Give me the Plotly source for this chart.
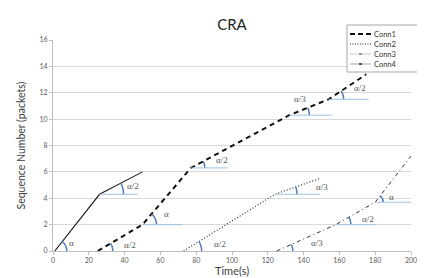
import math
import plotly.graph_objects as go

# ---------------- data ----------------
solid_x = [1, 26, 50]
solid_y = [0, 4.3, 6.0]
conn1_x = [25, 50, 77, 132, 154, 175]
conn1_y = [0, 2.0, 6.3, 10.3, 11.5, 13.4]
conn2_x = [73, 124, 149]
conn2_y = [0, 4.3, 5.5]
conn4_x = [125, 158, 180, 200]
conn4_y = [0, 2.0, 3.7, 7.2]

x_ticks = [0, 20, 40, 60, 80, 100, 120, 140, 160, 180, 200]
y_ticks = [0, 2, 4, 6, 8, 10, 12, 14, 16]
legend_names = ["Conn1", "Conn2", "Conn3", "Conn4"]

series = {
    "solid": (solid_x, solid_y),
    "conn1": (conn1_x, conn1_y),
    "conn2": (conn2_x, conn2_y),
    "conn4": (conn4_x, conn4_y),
}

# angle marks: (series, point index, label)
mark_refs = [
    ("solid", 0, "α"), ("solid", 1, "α/2"),
    ("conn1", 0, "α/2"), ("conn1", 1, "α"), ("conn1", 2, "α/2"),
    ("conn1", 3, "α/3"), ("conn1", 4, "α/2"),
    ("conn2", 0, "α/2"), ("conn2", 1, "α/3"),
    ("conn4", 0, "α/3"), ("conn4", 1, "α/2"), ("conn4", 2, "α"),
]
# styling of each mark: arc radius px, reference length px, label dx, label dy
mark_style = [
    (12, 0, 17, 8), (24, 38, 33, 8),
    (15, 0, 32, 6), (14, 40, 24, 11), (14, 37, 31, 8),
    (20, 43, 11, 16), (15, 40, 31, 11),
    (18, 0, 36, 7), (22, 45, 47, 7),
    (16, 0, 40, 8), (15, 40, 32, 6), (8, 37, 16, 5),
]

# ---------------- layout geometry ----------------
# page body has an 8px margin; figure drawn so that it fills the visible window
OFF = 8
W, H = 425 - OFF, 278 - OFF
ML = 53 - OFF
MT = 40 - OFF
MR = W - (411 - OFF)
MB = H - (251 - OFF)
plot_w = W - ML - MR
plot_h = H - MT - MB
px_x = plot_w / (x_ticks[-1] - x_ticks[0])
px_y = plot_h / (y_ticks[-1] - y_ticks[0])
ax_l, ax_r, ax_t, ax_b = 53, 411, 40, 251   # reference pixel coords of plot area

fig = go.Figure()
fig.add_trace(go.Scatter(x=solid_x, y=solid_y, mode="lines", name="",
                         line=dict(color="#1a1a1a", width=1.1), showlegend=False))
fig.add_trace(go.Scatter(x=conn1_x, y=conn1_y, mode="lines", name=legend_names[0],
                         line=dict(color="#111111", width=2, dash="5px,4px"), showlegend=False))
fig.add_trace(go.Scatter(x=conn2_x, y=conn2_y, mode="lines", name=legend_names[1],
                         line=dict(color="#222222", width=1.1, dash="1px,2px"), showlegend=False))
fig.add_trace(go.Scatter(x=conn4_x, y=conn4_y, mode="lines", name=legend_names[3],
                         line=dict(color="#333333", width=1, dash="4px,3px,1px,3px"), showlegend=False))

shapes = []
annotations = []
for (sname, idx, label), (r, reflen, ldx, ldy) in zip(mark_refs, mark_style):
    xs, ys = series[sname]
    x0, y0 = xs[idx], ys[idx]
    x1, y1 = xs[idx + 1], ys[idx + 1]
    ang = math.atan2((y1 - y0) * px_y, (x1 - x0) * px_x)
    n = 10
    pts = [(r * math.cos(ang * k / n), r * math.sin(ang * k / n)) for k in range(n + 1)]
    path = "M " + " L ".join(f"{a:.2f},{b:.2f}" for a, b in pts)
    shapes.append(dict(type="path", xref="x", yref="y", xsizemode="pixel", ysizemode="pixel",
                       xanchor=x0, yanchor=y0, path=path,
                       line=dict(color="#4a7ebb", width=1.5)))
    if reflen:
        shapes.append(dict(type="line", xref="x", yref="y", xsizemode="pixel",
                           xanchor=x0, x0=0, x1=reflen, y0=y0, y1=y0,
                           line=dict(color="#9dc3e6", width=1)))
    annotations.append(dict(x=x0, y=y0, xref="x", yref="y", text=label, showarrow=False,
                            xshift=ldx, yshift=ldy,
                            font=dict(family="Liberation Serif", size=9, color="#595959")))

# outer chart border (reference pixels, relative to plot bottom-left)
shapes.append(dict(type="rect", xref="paper", yref="paper", xsizemode="pixel", ysizemode="pixel",
                   xanchor=0, yanchor=0, x0=7 - ax_l, x1=440 - ax_l, y0=ax_b - 6, y1=ax_b - 290,
                   line=dict(color="#d9d9d9", width=1), layer="below"))

# manual legend (reference pixel geometry relative to top-right of plot)
leg_left, leg_right, leg_top, leg_bottom = 347, 420, 25, 72
shapes.append(dict(type="rect", xref="paper", yref="paper", xsizemode="pixel", ysizemode="pixel",
                   xanchor=1, yanchor=1, x0=leg_left - ax_r, x1=leg_right - ax_r,
                   y0=ax_t - leg_top, y1=ax_t - leg_bottom,
                   fillcolor="white", line=dict(color="#a6a6a6", width=1), layer="above"))
leg_rows = [34, 44, 54, 64]
leg_styles = [
    dict(color="#111111", width=2, dash="5px,3px"),
    dict(color="#222222", width=1, dash="1px,1.5px"),
    dict(color="#c8c8c8", width=1),
    dict(color="#a6a6a6", width=1),
]
for name, ry, st in zip(legend_names, leg_rows, leg_styles):
    shapes.append(dict(type="line", xref="paper", yref="paper", xsizemode="pixel", ysizemode="pixel",
                       xanchor=1, yanchor=1, x0=350 - ax_r, x1=371 - ax_r,
                       y0=ax_t - ry, y1=ax_t - ry, line=st, layer="above"))
    annotations.append(dict(xref="paper", yref="paper", x=1, y=1, xanchor="left", yanchor="middle",
                            xshift=372 - ax_r, yshift=ax_t - ry, text=name, showarrow=False,
                            font=dict(family="Lato", size=7.5, color="#333333")))
for ry, col in zip(leg_rows[2:], ["#9a9a9a", "#555555"]):
    shapes.append(dict(type="line", xref="paper", yref="paper", xsizemode="pixel", ysizemode="pixel",
                       xanchor=1, yanchor=1, x0=359 - ax_r, x1=362 - ax_r,
                       y0=ax_t - ry, y1=ax_t - ry, line=dict(color=col, width=2), layer="above"))

# axis titles as annotations (reference pixel positions)
annotations.append(dict(xref="paper", yref="paper", x=0.5, y=0, xanchor="center", yanchor="middle",
                        yshift=ax_b - 270, text="Time(s)", showarrow=False,
                        font=dict(family="Lato", size=11, color="#404040")))
annotations.append(dict(xref="paper", yref="paper", x=0, y=0.5, xanchor="center", yanchor="middle",
                        xshift=20 - ax_l, textangle=-90, text="Sequence Number (packets)",
                        showarrow=False, font=dict(family="Lato", size=10.5, color="#404040")))

fig.update_layout(
    width=W, height=H,
    margin=dict(l=ML, r=MR, t=MT, b=MB, autoexpand=False),
    paper_bgcolor="white", plot_bgcolor="white",
    showlegend=False,
    title=dict(text="CRA", x=0.5, xref="paper", y=1 - (25 - OFF) / H, yanchor="middle",
               font=dict(family="Lato", size=15, color="#222222")),
    shapes=shapes, annotations=annotations,
    font=dict(family="Lato"),
)
fig.update_xaxes(range=[x_ticks[0], x_ticks[-1]], tickvals=x_ticks, showgrid=False,
                 showline=True, linecolor="#bfbfbf", linewidth=1, ticks="outside", ticklen=3,
                 tickcolor="#bfbfbf", tickfont=dict(family="Lato", size=7, color="#595959"),
                 zeroline=False, automargin=False)
fig.update_yaxes(range=[y_ticks[0], y_ticks[-1]], tickvals=y_ticks, showgrid=True,
                 gridcolor="#d9d9d9", gridwidth=1, showline=True, linecolor="#bfbfbf", linewidth=1,
                 ticks="outside", ticklen=3, tickcolor="#bfbfbf",
                 tickfont=dict(family="Lato", size=7, color="#595959"),
                 zeroline=False, automargin=False)

fig.write_html("out.html")
